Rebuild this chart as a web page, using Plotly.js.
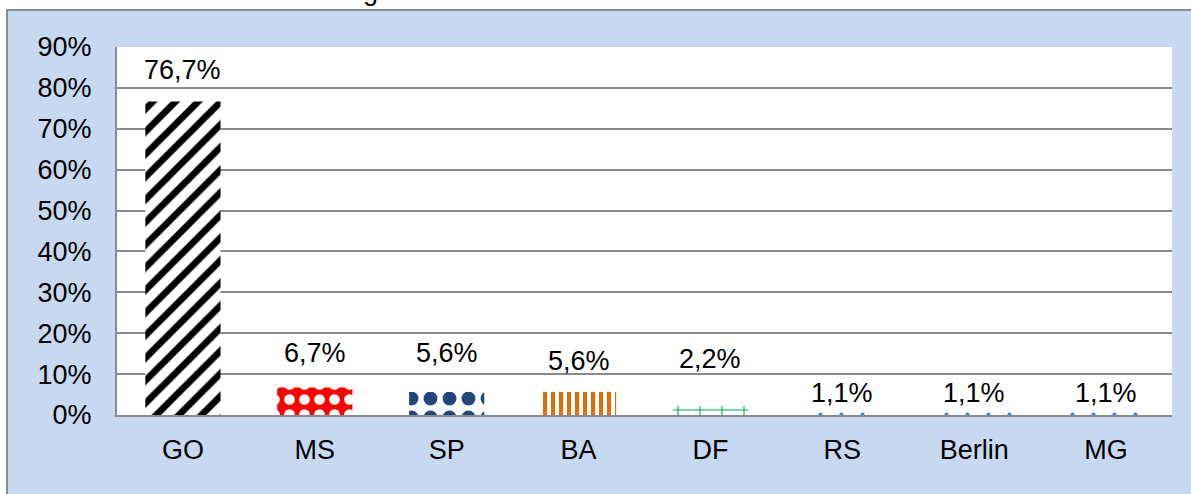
<!DOCTYPE html>
<html>
<head>
<meta charset="utf-8">
<script src="https://cdn.plot.ly/plotly-3.0.1.min.js"></script>
<style>
html,body{margin:0;padding:0;background:#ffffff;}
#chart{width:1191px;height:494px;}
</style>
</head>
<body>
<div id="chart"></div>
<script>
// Data
const categories = ["GO", "MS", "SP", "BA", "DF", "RS", "Berlin", "MG"];
const values = [76.7, 6.7, 5.6, 5.6, 2.2, 1.1, 1.1, 1.1];
const yTickValues = [0, 10, 20, 30, 40, 50, 60, 70, 80, 90];
const yTickLabels = ["0%", "10%", "20%", "30%", "40%", "50%", "60%", "70%", "80%", "90%"];
const titleFragment = "g";

// Styles
const patShapes = ["/", ".", ".", "|", "+", ".", ".", "."];
const patFg = ["#000000", "#ffffff", "#1F497D", "#E36C09", "#00B050", "#4F81BD", "#4F81BD", "#4F81BD"];
const patBg = ["#ffffff", "#FF0000", "#ffffff", "#ffffff", "#ffffff", "#ffffff", "#ffffff", "#ffffff"];
const patSize = [16, 15, 19, 8, 22, 21, 21, 21];
const patSolid = [0.42, 0.4, 0.42, 0.5, 0.1, 0.03, 0.03, 0.03];
const labelShift = [31, 35, 39, 31, 47, 18, 18, 18];

const fontFam = "Liberation Sans, Arial, sans-serif";
const FS = 27;
const fmt = v => v.toFixed(1).replace(".", ",") + "%";

const W = 1191, H = 494;
const M = {l: 117, r: 19, t: 47, b: 79};
const pw = W - M.l - M.r, ph = H - M.t - M.b;
const px = x => (x - M.l) / pw;
const py = y => (H - M.b - y) / ph;

const traces = categories.map((c, i) => ({
  type: "bar",
  x: [c],
  y: [values[i]],
  width: 0.57,
  name: c,
  marker: {
    color: patBg[i],
    line: {width: 0},
    pattern: {
      shape: patShapes[i],
      fgcolor: patFg[i],
      bgcolor: patBg[i],
      size: patSize[i],
      solidity: patSolid[i]
    }
  },
  hoverinfo: "skip"
}));

const annotations = categories.map((c, i) => ({
  x: c, y: values[i], xref: "x", yref: "y",
  text: fmt(values[i]),
  showarrow: false,
  yanchor: "middle",
  yshift: labelShift[i],
  font: {family: fontFam, size: FS, color: "#000000"}
}));
annotations.push({
  x: px(370), y: py(8.5), xref: "paper", yref: "paper",
  text: titleFragment, showarrow: false,
  xanchor: "center", yanchor: "bottom",
  font: {family: fontFam, size: FS, color: "#000000"}
});

const layout = {
  width: W, height: H,
  margin: M,
  paper_bgcolor: "#ffffff",
  plot_bgcolor: "#ffffff",
  showlegend: false,
  barmode: "overlay",
  font: {family: fontFam, size: FS, color: "#000000"},
  xaxis: {
    type: "category",
    categoryarray: categories,
    showgrid: false,
    showline: true,
    linecolor: "#8a8a8a",
    linewidth: 2,
    ticks: "",
    ticklabelstandoff: 10,
    tickfont: {family: fontFam, size: FS, color: "#000000"},
    zeroline: false,
    fixedrange: true
  },
  yaxis: {
    range: [0, 90],
    tickvals: yTickValues,
    ticktext: yTickLabels,
    showgrid: true,
    gridcolor: "#8a8a8a",
    gridwidth: 2,
    showline: true,
    linecolor: "#8a8a8a",
    linewidth: 2,
    ticks: "",
    ticklabelstandoff: 18,
    tickfont: {family: fontFam, size: FS, color: "#000000"},
    zeroline: false,
    fixedrange: true
  },
  shapes: [
    {type: "rect", xref: "paper", yref: "paper", layer: "below",
     x0: px(7), x1: px(W + 10), y0: py(H + 10), y1: py(10),
     fillcolor: "#C6D9F1", line: {color: "#8c8c8c", width: 2}},
    {type: "rect", xref: "paper", yref: "paper", layer: "below",
     x0: 0, x1: 1, y0: 0, y1: 1,
     fillcolor: "#ffffff", line: {width: 0}}
  ],
  annotations: annotations
};

Plotly.newPlot("chart", traces, layout, {displayModeBar: false, staticPlot: true});
</script>
</body>
</html>
